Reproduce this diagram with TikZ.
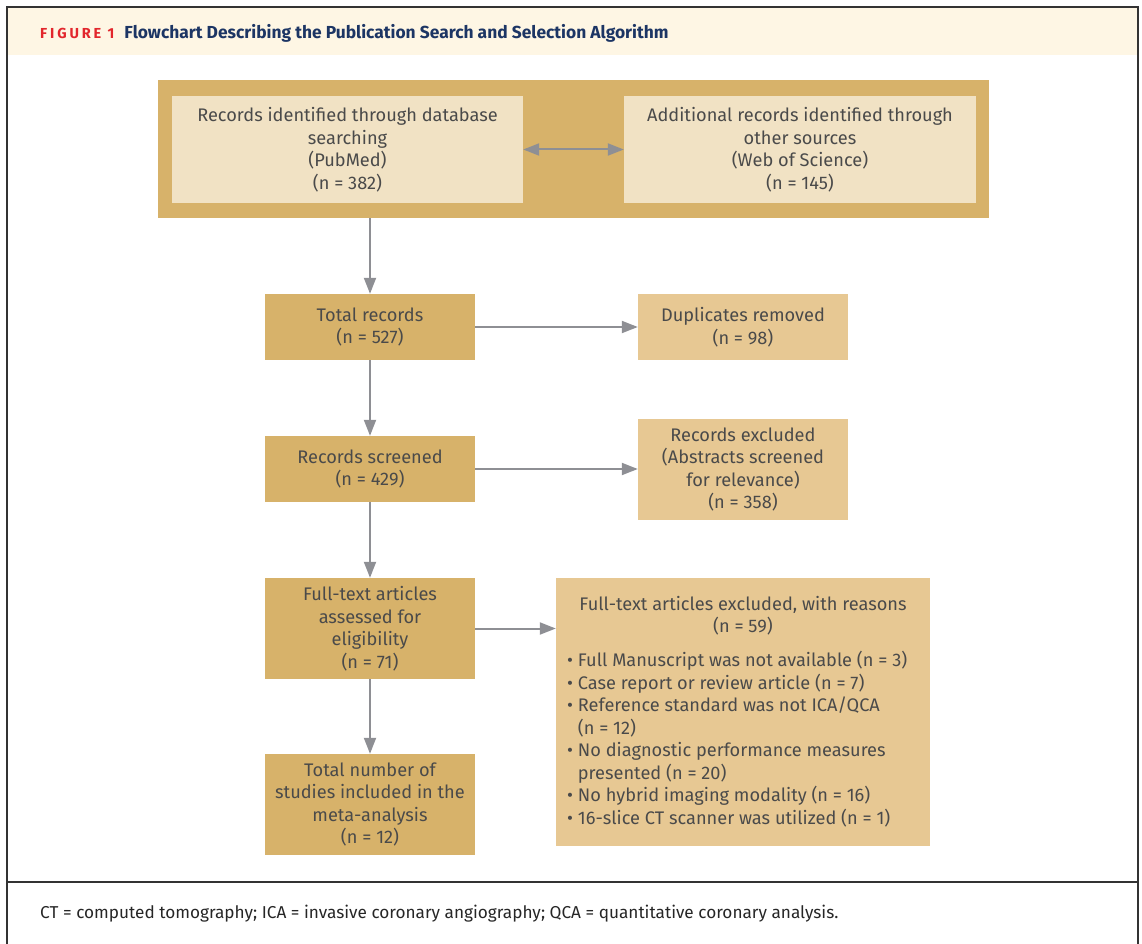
\documentclass[tikz,border=0pt]{standalone}
\usepackage{fontspec}
\setmainfont{Fira Sans}
\usetikzlibrary{positioning,arrows.meta}
\definecolor{gold}{HTML}{D7B26A}
\definecolor{cream}{HTML}{F1E2C4}
\definecolor{tan}{HTML}{E7C893}
\definecolor{hdr}{HTML}{FEF6E4}
\definecolor{ink}{HTML}{4A4A4A}
\definecolor{arrowgray}{HTML}{8E8F94}
\definecolor{navy}{HTML}{1C3564}
\definecolor{figred}{HTML}{E2262C}
\newcommand{\bodyfont}{\fontsize{18.2}{22.5}\selectfont}

\begin{document}
\begin{tikzpicture}
  [
    x=1pt, y=-1pt,
    outer/.style={fill=gold, inner sep=0pt},
    src/.style={fill=cream, text=ink, font=\bodyfont, align=center, minimum width=351pt, minimum height=107pt, inner sep=0pt},
    main/.style={fill=gold, text=ink, font=\bodyfont, align=center, minimum width=210pt, inner sep=0pt},
    side/.style={fill=tan, text=ink, font=\bodyfont, align=center, minimum width=210pt, inner sep=0pt},
    arr/.style={draw=arrowgray, line width=2pt, -{Triangle[length=16pt,width=12pt]}},
    darr/.style={draw=arrowgray, line width=2pt, {Triangle[length=16pt,width=12pt]}-{Triangle[length=16pt,width=12pt]}}
  ]
  \useasboundingbox (0,0) rectangle (1142,944);
  % frame and header
  \fill[hdr] (8,8) rectangle (1137,55);
  \draw[line width=2pt, draw=black!80] (7,946) -- (7,7) -- (1138,7) -- (1138,946);
  \draw[line width=1.5pt, draw=black!80] (7,882) -- (1138,882);
  \node[anchor=base west, inner sep=0pt] (title) at (40,39)
    {{\color{figred}\bfseries\addfontfeature{LetterSpace=20}\fontsize{14.5}{16}\selectfont FIGURE 1}\hspace{10pt}%
     {\color{navy}\bfseries\fontsize{17.4}{20}\selectfont Flowchart Describing the Publication Search and Selection Algorithm}};

  % identification
  \node[outer, minimum width=831pt, minimum height=138pt] (ident) at (573.5,149) {};
  \node[src] (pubmed) at (347.5,149.5) {Records identified through database\\searching\\(PubMed)\\(n = 382)};
  \node[src, minimum width=352pt] (wos) at (800,149.5) {Additional records identified through\\other sources\\(Web of Science)\\(n = 145)};
  \draw[darr] (pubmed) -- (wos);

  % main column
  \node[main, minimum height=66pt] (total) at (370,327) {Total records\\(n = 527)};
  \node[main, minimum height=66pt] (screened) at (370,469) {Records screened\\(n = 429)};
  \node[main, minimum height=101pt] (full) at (370,628.5) {Full-text articles\\assessed for\\eligibility\\(n = 71)};
  \node[main, minimum height=101pt] (incl) at (370,804.5) {Total number of\\studies included in the\\meta-analysis\\(n = 12)};

  % side column
  \node[side, minimum height=66pt] (dup) at (743,327) {Duplicates removed\\(n = 98)};
  \node[side, minimum height=101pt] (excl) at (743,469.5) {Records excluded\\(Abstracts screened\\for relevance)\\(n = 358)};
  \node[side, minimum width=374pt, minimum height=268pt] (reasons) at (743,712) {};
  \node[text=ink, font=\bodyfont, align=center, inner sep=0pt] (rhead) at (743,615.5)
    {Full-text articles excluded, with reasons\\(n = 59)};
  \node[text=ink, font=\bodyfont, align=left, anchor=north west, inner sep=0pt] (rlist) at (567,651)
    {• Full Manuscript was not available (n = 3)\\
     • Case report or review article (n = 7)\\
     • Reference standard was not ICA/QCA\\
     \phantom{• }(n = 12)\\
     • No diagnostic performance measures\\
     \phantom{• }presented (n = 20)\\
     • No hybrid imaging modality (n = 16)\\
     • 16-slice CT scanner was utilized (n = 1)};

  \draw[arr] (ident.south -| total) -- (total);
  \draw[arr] (total) -- (screened);
  \draw[arr] (screened) -- (full);
  \draw[arr] (full) -- (incl);
  \draw[arr] (total) -- (dup);
  \draw[arr] (screened) -- (excl.west |- screened);
  \draw[arr] (full) -- (reasons.west |- full);

  % footnote
  \node[anchor=base west, inner sep=0pt, text=black!85, font=\fontsize{17.2}{20}\selectfont] (note) at (40,918)
    {CT = computed tomography; ICA = invasive coronary angiography; QCA = quantitative coronary analysis.};
\end{tikzpicture}
\end{document}
